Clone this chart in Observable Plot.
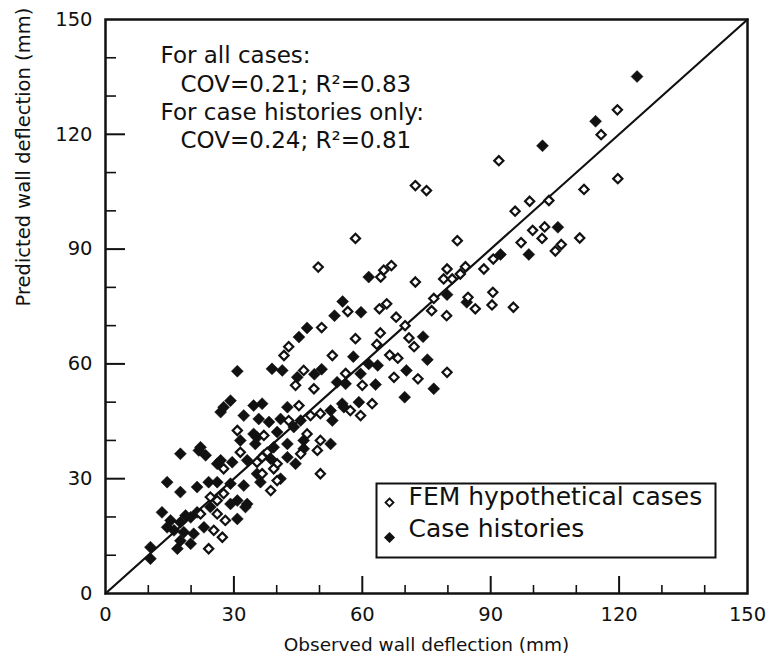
<!DOCTYPE html>
<html><head><meta charset="utf-8">
<script src="https://cdn.jsdelivr.net/npm/d3@7"></script>
<script src="https://cdn.jsdelivr.net/npm/@observablehq/plot@0.6"></script>
<style>body{margin:0;background:#fff}#chart{position:relative;width:771px;height:666px}#chart svg.overlay{position:absolute;left:0;top:0;pointer-events:none}</style>
</head><body><div id="chart"></div>
<script>
// FEM hypothetical cases (open diamonds)
const femObserved = [119.6,115.8,91.9,72.4,75.0,119.7,111.8,103.6,99.1,95.7,102.6,99.8,102.0,97.1,110.8,106.5,105.1,82.2,90.6,88.4,84.1,79.8,82.9,79.0,81.0,84.7,90.5,90.3,95.3,86.4,76.7,76.2,79.7,58.4,49.7,66.8,65.0,64.3,72.4,56.6,64.0,65.7,67.9,50.5,70.0,64.2,58.4,70.9,72.1,63.4,53.0,66.4,68.3,79.8,46.3,56.1,67.4,73.0,48.7,60.0,62.3,57.2,59.6,41.7,42.8,44.4,45.2,30.8,47.9,50.2,37.0,47.1,50.2,37.8,27.6,31.5,35.4,40.1,45.6,49.5,24.5,27.6,38.6,40.1,36.6,22.2,26.1,28.0,25.3,27.3,24.1,39.3,36.6,50.2,42.8,26.1];
const femPredicted = [126.4,119.9,113.1,106.6,105.3,108.4,105.6,102.7,102.5,99.9,95.8,94.9,92.8,91.7,92.9,91.2,89.5,92.2,87.4,84.8,85.4,84.8,83.5,82.2,82.2,77.4,78.7,75.4,74.8,74.4,77.1,73.9,72.6,92.8,85.3,85.7,84.5,82.7,81.4,73.7,74.4,75.7,72.2,69.5,70.0,68.1,66.6,66.8,64.5,65.1,62.2,62.3,61.5,57.8,58.3,57.5,56.5,56.1,53.5,54.4,49.6,47.8,46.5,62.2,64.5,54.4,49.1,42.6,46.5,47.0,41.3,41.7,40.0,36.9,32.6,36.9,34.3,33.9,36.5,37.4,25.2,26.1,26.9,29.5,31.3,20.8,20.8,19.1,16.5,14.7,11.7,32.6,35.6,31.3,45.2,24.3];
// Case histories (filled diamonds)
const caseObserved = [124.2,114.5,102.1,105.7,98.9,92.3,79.8,84.4,61.5,55.4,59.7,53.5,47.1,74.2,57.9,61.5,63.6,75.2,70.3,48.8,59.6,76.7,69.9,56.1,63.1,55.3,30.8,38.9,41.3,45.2,44.8,50.5,54.1,29.2,34.6,36.6,32.3,42.5,27.6,35.8,38.2,40.9,52.6,34.6,40.1,46.3,42.5,52.6,31.5,39.3,22.2,23.4,17.5,26.1,29.6,33.1,37.0,38.6,42.5,14.4,17.5,21.4,24.1,26.1,29.2,32.3,30.8,33.1,36.2,40.9,13.2,15.2,17.5,19.9,24.5,30.8,16.0,18.3,20.6,23.0,17.5,19.9,16.8,10.5,10.5,21.8,35.0,44.4,35.4,29.2,32.7,14.4,18.7,21.4,26.9,44.0,45.6,55.7,59.2,53.0,46.3,26.9,35.4];
const casePredicted = [135.1,123.4,117.0,95.7,88.6,88.6,78.1,76.1,82.7,76.3,73.5,72.6,69.4,67.1,61.9,60.0,59.6,61.1,58.3,57.3,57.4,53.5,51.3,54.8,54.6,49.6,58.1,58.7,58.3,67.0,56.5,58.6,55.2,50.4,49.1,49.6,46.5,48.7,48.7,45.6,44.8,45.6,47.8,41.7,42.2,40.0,39.1,39.1,40.0,38.2,38.2,36.1,36.5,33.9,34.3,34.8,36.1,35.2,35.6,29.1,26.5,27.8,29.1,29.1,28.7,28.2,24.3,23.4,29.1,30.0,21.2,19.1,18.6,19.9,22.6,19.5,16.5,16.0,15.6,17.3,13.8,13.0,11.7,12.1,9.1,37.4,39.1,33.9,31.3,23.4,22.6,17.3,20.4,21.2,47.4,43.5,45.2,48.7,50.0,45.2,37.8,34.8,40.8];

const tickLabels = [0, 30, 60, 90, 120, 150];
const majorTicks = [30, 60, 90, 120];
const minorTicks = [10, 20, 40, 50, 70, 80, 100, 110, 130, 140];
const lineOfEquality = [0, 150];
const annotationLines = ["For all cases:", "COV=0.21; R²=0.83", "For case histories only:", "COV=0.24; R²=0.81"];
const legendLabels = ["FEM hypothetical cases", "Case histories"];
const xLabel = "Observed wall deflection (mm)";
const yLabel = "Predicted wall deflection (mm)";

const W = 771, H = 666, mL = 105, mR = 24, mT = 19, mB = 73;
const uX = 150 / (W - mL - mR);   // data units per pixel
const uY = 150 / (H - mT - mB);

const diamond = {draw(ctx, size) {
  const r = Math.sqrt(size / Math.PI);
  ctx.moveTo(0, -r); ctx.lineTo(r, 0); ctx.lineTo(0, r); ctx.lineTo(-r, 0); ctx.closePath();
}};

const fem = femObserved.map((x, i) => ({x, y: femPredicted[i]}));
const cases = caseObserved.map((x, i) => ({x, y: casePredicted[i]}));

const annDx = [55, 75, 55, 75];
const annDy = [27, 56, 84, 112];

const chart = Plot.plot({
  width: W, height: H,
  marginLeft: mL, marginRight: mR, marginTop: mT, marginBottom: mB,
  style: {fontFamily: "DejaVu Sans", fontSize: "19.5px", color: "#111", background: "#fff"},
  x: {domain: [0, 150], ticks: tickLabels, tickSize: 0, tickPadding: 14, label: null},
  y: {domain: [0, 150], ticks: tickLabels, tickSize: 0, tickPadding: 13, label: null},
  marks: [
    Plot.line(lineOfEquality.map(v => [v, v]), {stroke: "#111", strokeWidth: 2.2}),
    Plot.dot(cases, {x: "x", y: "y", symbol: diamond, r: 6, fill: "#111", stroke: "#111", strokeWidth: 0.5}),
    Plot.dot(fem, {x: "x", y: "y", symbol: diamond, r: 4.6, fill: "#fff", stroke: "#111", strokeWidth: 2.2}),
    ...annotationLines.map((t, i) => Plot.text([t], {frameAnchor: "top-left", dx: annDx[i], dy: annDy[i], textAnchor: "start", fontSize: 23, fill: "#111"})),
    Plot.frame({insetLeft: 271, insetRight: 32, insetTop: 464, insetBottom: 36, fill: "none", stroke: "#111", strokeWidth: 2}),
    Plot.dot([legendLabels[0]], {frameAnchor: "bottom-left", dx: 284, dy: -91, symbol: diamond, r: 4, fill: "#fff", stroke: "#111", strokeWidth: 1.8}),
    Plot.dot([legendLabels[1]], {frameAnchor: "bottom-left", dx: 284, dy: -56, symbol: diamond, r: 4.5, fill: "#111", stroke: "#111"}),
    Plot.text([legendLabels[0]], {frameAnchor: "bottom-left", dx: 303, dy: -89, textAnchor: "start", fontSize: 25, fill: "#111"}),
    Plot.text([legendLabels[1]], {frameAnchor: "bottom-left", dx: 303, dy: -57, textAnchor: "start", fontSize: 25, fill: "#111"}),
    Plot.text([xLabel], {frameAnchor: "bottom", dy: 57, fontSize: 18.5, fill: "#111"}),
    Plot.text([yLabel], {frameAnchor: "left", dx: -82, rotate: -90, fontSize: 19.5, fill: "#111"}),
    Plot.frame({stroke: "#111", strokeWidth: 2.5})
  ]
});

// inward tick marks, drawn by a second Plot chart with the same scales laid over the first
const ticks = Plot.plot({
  width: W, height: H,
  marginLeft: mL, marginRight: mR, marginTop: mT, marginBottom: mB,
  style: {background: "transparent", color: "#111"},
  x: {domain: [0, 150], axis: null},
  y: {domain: [0, 150], axis: null},
  marks: [
    Plot.ruleX(minorTicks, {x: d => d, y1: d => 0, y2: d => 8 * uY, stroke: "#111", strokeWidth: 1.6}),
    Plot.ruleX(majorTicks, {x: d => d, y1: d => 0, y2: d => 17 * uY, stroke: "#111", strokeWidth: 2}),
    Plot.ruleY(minorTicks, {y: d => d, x1: d => 0, x2: d => 11 * uX, stroke: "#111", strokeWidth: 1.6}),
    Plot.ruleY(majorTicks, {y: d => d, x1: d => 0, x2: d => 20 * uX, stroke: "#111", strokeWidth: 2})
  ]
});
ticks.classList.add("overlay");
const host = document.getElementById("chart");
host.append(chart);
host.append(ticks);
</script>
</body></html>
